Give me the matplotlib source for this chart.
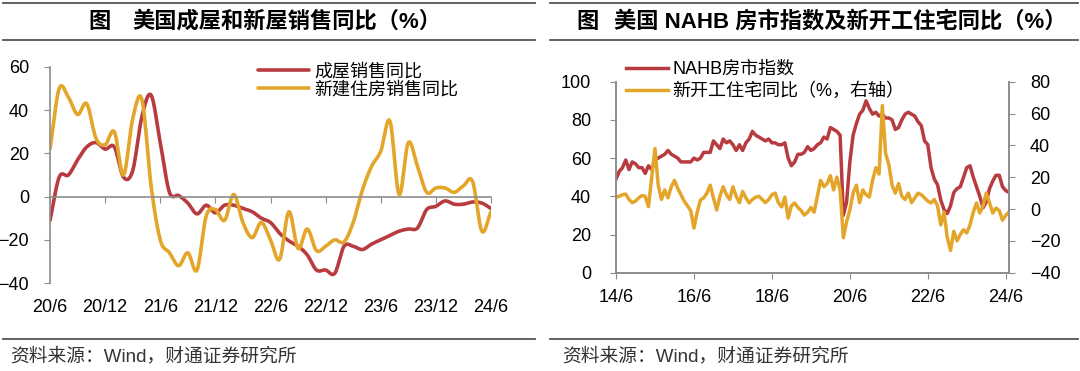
import numpy as np
import pandas as pd
import matplotlib
matplotlib.use("Agg")
import matplotlib.pyplot as plt
from matplotlib.lines import Line2D

plt.rcParams['font.family'] = ['Liberation Sans', 'Noto Sans CJK SC', 'DejaVu Sans']

# ---------------- data: left chart (monthly, 2020-06 .. 2024-06) ----------------
left_months = pd.period_range("2020-06", "2024-06", freq="M")
left_tick_labels = ["20/6", "20/12", "21/6", "21/12", "22/6", "22/12", "23/6", "23/12", "24/6"]
existing_yoy = [-11, 9, 10, 17, 23, 25, 22, 23, 9, 12, 37, 47, 25, 2, 0.5, -3, -8, -4,
                -7.5, -4, -4, -5.5, -7, -10, -12, -17, -20.5, -23, -27, -34, -34, -35.5,
                -23, -23, -24.5, -22, -20, -18, -16, -15, -14.5, -6, -4.5, -2, -3.5, -3.5,
                -2.5, -3, -5.5]
new_yoy = [22, 50, 46, 38, 43, 27, 24, 30, 10, 36, 45, 5, -20, -26, -32, -26, -34, -9,
           -6, -11, 1, -12, -19, -12, -20, -29, -7, -24, -15, -25, -23, -20, -21, -12,
           3, 14, 21, 35, 1, 25, 14, 2, 4, 4, 2, 5, 7, -16, -7]

# ---------------- data: right chart (monthly, 2014-06 .. 2024-07) ----------------
right_months = pd.period_range("2014-06", "2024-07", freq="M")
right_tick_labels = ["14/6", "16/6", "18/6", "20/6", "22/6", "24/6"]
nahb = [49, 53, 55, 59, 54, 58, 57,
        55, 55, 52, 56, 54, 59, 60, 61, 62, 64, 62, 61,
        60, 58, 58, 58, 58, 60, 59, 60, 63, 63, 63, 69,
        67, 65, 70, 68, 69, 67, 64, 67, 64, 68, 70, 74,
        72, 71, 70, 69, 70, 68, 68, 67, 67, 68, 60, 56,
        58, 62, 62, 63, 66, 64, 65, 67, 68, 71, 70, 76,
        75, 74, 72, 30, 37, 58, 72, 78, 83, 85, 90, 86,
        83, 84, 82, 83, 81, 81, 80, 75, 76, 80, 83, 84,
        83, 82, 79, 77, 69, 67, 55, 49, 46, 38, 33, 31,
        35, 42, 44, 45, 50, 55, 56, 50, 45, 40, 34, 37,
        44, 48, 51, 51, 45, 43, 42]
starts_yoy = [7.5, 8, 9, 9.4, 6, 4, 5, 7, 8.5, 8, 1.5, 20, 38, 15, 6, 12, 7, 14, 18, 13,
              9, 5, 2, -1, -12, -2, 5.7, 7, 10, 15, 7, -0.6, 8, 14, 9, 6, 14, 8, 4, 11,
              7, 3.8, 6, 7.5, 8, 6, 4, 6, 9, 10, 4, 1.3, 7.5, -5.7, 2, 3.8, 1, -1, -3.8, -2,
              1, -2, 8, 18, 14, 16, 21, 12, 20, 12, -18, -8, -0.6, 10, 15, 4, 12, 9, 7.5, 18,
              26, 22, 65, 35, 28, 15, 10, 16, 8, 6, 10, 4, 7, 10, 9, 7, 5, 3.8, 6, 2,
              -10, -2, -18, -26, -14, -20, -16, -13, -15, -10, -2, 3.8, -2.5, 2, 10, 4, -2.5, 0.6, -1, -7,
              -4, -1.9]

RED = "#B83B40"
YEL = "#E4A62A"
GRAY = "#8C8C8C"
FS = 13

def catmull(x, y, n=12):
    x = np.asarray(x, float); y = np.asarray(y, float)
    px = np.concatenate([[2 * x[0] - x[1]], x, [2 * x[-1] - x[-2]]])
    py = np.concatenate([[2 * y[0] - y[1]], y, [2 * y[-1] - y[-2]]])
    xs, ys = [], []
    t = np.linspace(0, 1, n, endpoint=False)
    for i in range(1, len(px) - 2):
        for p, out in ((px, xs), (py, ys)):
            p0, p1, p2, p3 = p[i - 1], p[i], p[i + 1], p[i + 2]
            out.append(0.5 * ((2 * p1) + (-p0 + p2) * t + (2 * p0 - 5 * p1 + 4 * p2 - p3) * t ** 2
                              + (-p0 + 3 * p1 - 3 * p2 + p3) * t ** 3))
    xs = np.concatenate(xs + [[x[-1]]]); ys = np.concatenate(ys + [[y[-1]]])
    return xs, ys

W, H = 1080, 371
fig = plt.figure(figsize=(W / 100, H / 100), dpi=100)

def fx(px): return px / W
def fy(py): return 1 - py / H

# ---------------- header / footer decorations ----------------
for x0, x1 in ((3, 535), (550, 1078)):
    for yy in (3, 40, 339):
        fig.add_artist(Line2D([fx(x0), fx(x1)], [fy(yy), fy(yy)], color="#555555", lw=1.3))

TFS = 16
fig.text(fx(88), fy(22), "图", fontsize=TFS, fontweight="bold", va="center", ha="left")
fig.text(fx(132), fy(22), "美国成屋和新屋销售同比（%）", fontsize=TFS, fontweight="bold", va="center", ha="left")
fig.text(fx(576), fy(22), "图", fontsize=TFS, fontweight="bold", va="center", ha="left")
fig.text(fx(614), fy(22), "美国 NAHB 房市指数及新开工住宅同比（%）", fontsize=TFS, fontweight="bold", va="center", ha="left")

fig.text(fx(10), fy(356), "资料来源：Wind，财通证券研究所", fontsize=13.5, color="#333333", va="center", ha="left")
fig.text(fx(562), fy(356), "资料来源：Wind，财通证券研究所", fontsize=13.5, color="#333333", va="center", ha="left")

# ---------------- left chart ----------------
axL = fig.add_axes([fx(50), fy(283), fx(491 - 50), (283 - 67) / H])
xl = np.arange(len(left_months))
sx, sy = catmull(xl, existing_yoy)
axL.plot(sx, sy, color=RED, lw=2.6, solid_capstyle="round", label="成屋销售同比")
sx, sy = catmull(xl, new_yoy)
axL.plot(sx, sy, color=YEL, lw=2.6, solid_capstyle="round", label="新建住房销售同比")
axL.set_xlim(0, len(left_months) - 1)
axL.set_ylim(-40, 60)
axL.set_yticks([-40, -20, 0, 20, 40, 60])
for s in ("top", "right"):
    axL.spines[s].set_visible(False)
axL.spines["bottom"].set_position(("data", 0))
axL.spines["bottom"].set_color(GRAY)
axL.spines["left"].set_color(GRAY)
axL.spines["bottom"].set_linewidth(1.2)
axL.spines["left"].set_linewidth(1.2)
ticks_l = xl[::6]
axL.set_xticks(ticks_l)
axL.tick_params(axis="x", direction="out", length=4, color=GRAY, labelbottom=False)
axL.tick_params(axis="y", direction="out", length=4, color=GRAY, labelsize=FS, pad=11)
for t, lab in zip(ticks_l, left_tick_labels):
    axL.text(t, -0.115, lab, transform=axL.get_xaxis_transform(), ha="center", va="center", fontsize=FS)
axL.legend(loc="upper left", bbox_to_anchor=(fx(258), fy(63)), bbox_transform=fig.transFigure,
           frameon=False, fontsize=13, handlelength=2.8, handletextpad=0.3, labelspacing=0.1,
           borderpad=0, borderaxespad=0)
axL.patch.set_alpha(0)

# ---------------- right chart ----------------
axR = fig.add_axes([fx(616), fy(272.7), fx(1009 - 616), (272.7 - 81.7) / H])
xr = np.arange(len(right_months))
l1, = axR.plot(xr, nahb, color=RED, lw=2.5, label="NAHB房市指数")
axR.set_xlim(0, len(right_months) - 1)
axR.set_ylim(0, 100)
axR.set_yticks([0, 20, 40, 60, 80, 100])
axT = axR.twinx()
l2, = axT.plot(xr, starts_yoy, color=YEL, lw=2.5, label="新开工住宅同比（%，右轴）")
axT.set_ylim(-40, 80)
axT.set_yticks([-40, -20, 0, 20, 40, 60, 80])
for a in (axR, axT):
    a.spines["top"].set_visible(False)
    for s in ("left", "right", "bottom"):
        a.spines[s].set_color(GRAY)
        a.spines[s].set_linewidth(1.2)
ticks_r = xr[::24]
axR.set_xticks(ticks_r)
axR.set_xticklabels(right_tick_labels)
axR.tick_params(axis="x", direction="out", length=4, color=GRAY, labelsize=FS, pad=8)
axR.tick_params(axis="y", direction="out", length=4, color=GRAY, labelsize=FS, pad=14)
axT.tick_params(axis="y", direction="out", length=4, color=GRAY, labelsize=FS, pad=11)
axT.legend(handles=[l1, l2], loc="upper left", bbox_to_anchor=(fx(626), fy(61)),
           bbox_transform=fig.transFigure, frameon=False, fontsize=13, handlelength=2.3,
           handletextpad=0.25, labelspacing=0.25, borderpad=0, borderaxespad=0)

fig.savefig("out.png", dpi=100)
